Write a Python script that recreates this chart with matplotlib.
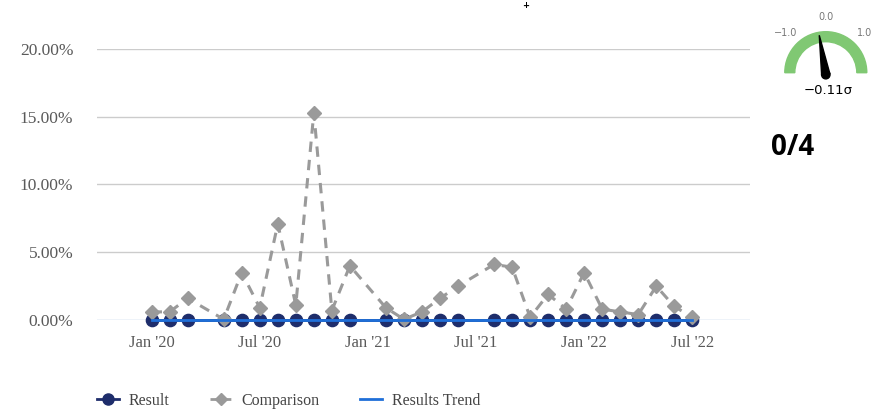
import numpy as np
import matplotlib.pyplot as plt
from matplotlib.patches import Wedge, Polygon, Circle
from matplotlib.lines import Line2D

# monthly periods that have data (Apr '20, Jan '21 and Jul '21 are missing)
months = ["2020-01", "2020-02", "2020-03", "2020-05", "2020-06", "2020-07",
          "2020-08", "2020-09", "2020-10", "2020-11", "2020-12", "2021-02",
          "2021-03", "2021-04", "2021-05", "2021-06", "2021-08", "2021-09",
          "2021-10", "2021-11", "2021-12", "2022-01", "2022-02", "2022-03",
          "2022-04", "2022-05", "2022-06", "2022-07"]
result = [0.0] * len(months)
comparison = [0.6, 0.6, 1.6, 0.05, 3.5, 0.9, 7.1, 1.1, 15.3, 0.7, 4.0, 0.9,
              0.05, 0.6, 1.6, 2.5, 4.1, 3.9, 0.2, 1.9, 0.8, 3.5, 0.8, 0.6,
              0.4, 2.5, 1.0, 0.2]
trend = [0.0] * len(months)

tick_months = ["2020-01", "2020-07", "2021-01", "2021-07", "2022-01", "2022-07"]
tick_labels = ["Jan '20", "Jul '20", "Jan '21", "Jul '21", "Jan '22", "Jul '22"]
y_ticks = [0, 5, 10, 15, 20]

gauge_value = -0.11
gauge_text = "\u22120.11\u03c3"
score_text = "0/4"


def month_index(m):
    y, mo = m.split("-")
    return (int(y) - 2020) * 12 + int(mo) - 1


x = np.array([month_index(m) for m in months])
xt = [month_index(m) for m in tick_months]

W, H = 883, 411
fig = plt.figure(figsize=(W / 100, H / 100), dpi=100)
fig.patch.set_facecolor("white")

serif = ["Liberation Serif", "DejaVu Serif"]

ax = fig.add_axes([97 / W, (H - 320) / H, (750 - 97) / W, 271 / H])
ax.set_xlim(-3.03, 33.2)
ax.set_ylim(0, 20)
for s in ax.spines.values():
    s.set_visible(False)
for yv in y_ticks[1:]:
    ax.axhline(yv, color="#cccccc", lw=1.0, zorder=0)
ax.axhline(0, color="#a9c3e2", lw=1.0, zorder=0)

ax.plot(x, result, color="#1e2d6b", marker="o", ms=8.8, lw=2,
        clip_on=False, zorder=3)
ax.plot(x, comparison, color="#9a9a9a", ls=(0, (3.4, 2.6)), lw=2.2,
        marker="D", ms=6.8, clip_on=False, zorder=4)
ax.plot(x, trend, color="#1f6fd8", lw=2.0, clip_on=False, zorder=5)

ax.set_yticks(y_ticks)
ax.set_yticklabels([f"{v:.2f}%" for v in y_ticks], family=serif,
                   fontsize=12.5, color="#5a5a5a")
ax.set_xticks(xt)
ax.set_xticklabels(tick_labels, family=serif, fontsize=12, color="#5a5a5a")
ax.tick_params(axis="y", length=0, pad=17)
ax.tick_params(axis="x", length=0, pad=11)

handles = [
    Line2D([], [], color="#1e2d6b", marker="o", ms=8, lw=2),
    Line2D([], [], color="#9a9a9a", ls=(0, (3, 1.5)), marker="D", ms=6, lw=2),
    Line2D([], [], color="#1f6fd8", lw=2),
]
fig.legend(handles, ["Result", "Comparison", "Results Trend"], ncol=3,
           loc="center left", bbox_to_anchor=(97 / W, 1 - 401 / H),
           frameon=False, prop={"family": serif, "size": 11.5},
           handlelength=1.4, handletextpad=0.6, columnspacing=2.5,
           borderpad=0, borderaxespad=0, labelcolor="#444444")

# overlay in pixel coordinates for the gauge and score
ov = fig.add_axes([0, 0, 1, 1], facecolor="none")
ov.set_xlim(0, W)
ov.set_ylim(H, 0)
ov.axis("off")

cx, cy = 825.8, 72.7
ov.add_patch(Wedge((cx, cy), 41, 180, 360, width=10, color="#80c873"))
ang = np.deg2rad(gauge_value * 90)
tip = (cx + 38 * np.sin(ang), cy - 38 * np.cos(ang))
px, py = 4.2 * np.cos(ang), 4.2 * np.sin(ang)
ov.add_patch(Polygon([(cx - px, cy + 2 - py), tip, (cx + px, cy + 2 + py)],
                     closed=True, color="black"))
ov.add_patch(Circle((cx, cy + 2), 4.2, color="black"))
ov.text(826, 17, "0.0", ha="center", va="center", fontsize=7, color="#777777")
ov.text(786, 33, "\u22121.0", ha="center", va="center", fontsize=7, color="#777777")
ov.text(865, 33, "1.0", ha="center", va="center", fontsize=7, color="#777777")
ov.text(828, 90, gauge_text, ha="center", va="center", fontsize=9.5,
        color="black")
ov.text(793, 147, score_text, ha="center", va="center", fontsize=20,
        fontweight="bold", family=["Open Sans", "DejaVu Sans"], color="black")
ov.text(526, 6, "+", ha="center", va="center", fontsize=6, fontweight="bold",
        color="black")

fig.savefig("out.png", dpi=100, facecolor="white")
